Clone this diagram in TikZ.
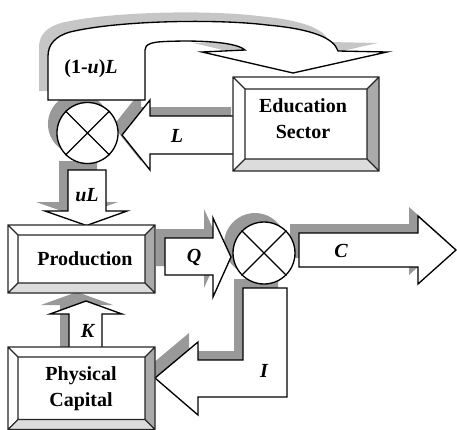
\documentclass[tikz,border=0pt]{standalone}
\usepackage{fontspec}
\setmainfont{Liberation Serif}

\definecolor{shadowgray}{HTML}{999999}
\definecolor{lightshadow}{HTML}{C6C6C6}
\definecolor{bevdark}{HTML}{AAAAAA}
\definecolor{bevlight}{HTML}{DCDCDC}

% Outlines of the block arrows (pixel-like units, y pointing down)
\newcommand\flowRet{(48,100) -- (145,100) -- (145,50) .. controls (145,44) and (152,42) .. (165,41.5) .. controls (200,40) and (236,42) .. (245,50) -- (202,52) -- (293,73) -- (387,52) -- (338,51) .. controls (334,38) and (312,29) .. (267,25) .. controls (220,19) and (120,20) .. (70,32) .. controls (56,36) and (48,44) .. (48,56) -- cycle}
\newcommand\flowL{(122,135) -- (150,100) -- (150,116) -- (240,116) -- (240,154) -- (150,154) -- (150,170) -- cycle}
\newcommand\flowuL{(68,170) -- (106,170) -- (106,211) -- (127,211) -- (86.5,225.5) -- (45,211) -- (68,211) -- cycle}
\newcommand\flowQ{(165,238) -- (213,238) -- (213,218) -- (231,257) -- (213,297) -- (213,275) -- (165,275) -- cycle}
\newcommand\flowC{(299,233) -- (418,233) -- (418,216) -- (456,250) -- (418,284) -- (418,267) -- (299,267) -- cycle}
\newcommand\flowK{(69,356) -- (69,314) -- (50,314) -- (86,301) -- (122,314) -- (102,314) -- (102,356) -- cycle}
\newcommand\flowI{(243,288) -- (287,288) -- (287,397) -- (198,397) -- (198,415) -- (155,378) -- (198,342) -- (198,360) -- (243,360) -- cycle}

% Bevelled box: x1 y1 x2 y2 bevel
\newcommand\bevelbox[5]{%
  \fill[white] (#1,#2) rectangle (#3,#4);
  \fill[bevdark] (#3,#2) -- (#3,#4) -- ({#3-#5},{#4-#5}) -- ({#3-#5},{#2+#5}) -- cycle;
  \fill[bevlight] (#1,#4) -- (#3,#4) -- ({#3-#5},{#4-#5}) -- ({#1+#5},{#4-#5}) -- cycle;
  \draw[boxline] (#1,#2) rectangle (#3,#4) ({#1+#5},{#2+#5}) rectangle ({#3-#5},{#4-#5})
     (#1,#2) -- ({#1+#5},{#2+#5}) (#3,#2) -- ({#3-#5},{#2+#5})
     (#3,#4) -- ({#3-#5},{#4-#5}) (#1,#4) -- ({#1+#5},{#4-#5});
}

\begin{document}
\begin{tikzpicture}[x=0.75pt,y=-0.75pt,
  outl/.style={draw=black,line width=1pt,line join=miter,fill=white},
  boxline/.style={draw=black!85,line width=0.9pt},
  mult/.style={circle,draw=black,line width=1pt,fill=white,inner sep=0pt},
  lbl/.style={font=\fontsize{15}{18}\selectfont\bfseries\itshape,anchor=base,inner sep=0pt},
  boxtxt/.style={font=\fontsize{15}{19.5}\selectfont\bfseries,align=center,inner sep=0pt}]
\useasboundingbox (0,0) rectangle (457,429);

% shadows
\begin{scope}[shift={(-9,-9)}]
  \fill[lightshadow] \flowRet;
  \fill[shadowgray] \flowL;
  \fill[shadowgray] \flowuL;
  \fill[shadowgray] \flowQ;
  \fill[shadowgray] \flowC;
  \fill[shadowgray] \flowK;
  \fill[shadowgray] \flowI;
  \fill[shadowgray] (87.5,133) circle[radius=22.9pt];
  \fill[shadowgray] (264,253) circle[radius=23.2pt];
\end{scope}

% block arrows
\path[outl] \flowRet;
\path[outl] \flowL;
\path[outl] \flowuL;
\path[outl] \flowQ;
\path[outl] \flowC;
\path[outl] \flowK;
\path[outl] \flowI;

% multipliers
\node[mult,minimum size=45.8pt] (m1) at (87.5,133) {};
\draw[line width=1pt] (m1.north west) -- (m1.south east) (m1.north east) -- (m1.south west);
\node[mult,minimum size=46.5pt] (m2) at (264,253) {};
\draw[line width=1pt] (m2.north west) -- (m2.south east) (m2.north east) -- (m2.south west);

% boxes
\bevelbox{233}{77}{379}{171}{12}
\bevelbox{8}{225}{155}{293}{10}
\bevelbox{8}{347}{155}{429.5}{10}
\node[boxtxt] (edu) at (303,119) {Education\\Sector};
\node[boxtxt] (prod) at (85,258.5) {Production};
\node[boxtxt] (cap) at (81,389) {Physical\\Capital};

% flow labels
\node[lbl] (lab1) at (91,73.5) {\upshape(1-\itshape u\upshape)\itshape L};
\node[lbl] (labL) at (177,142) {L};
\node[lbl] (labuL) at (87,201) {uL};
\node[lbl] (labQ) at (194,262) {Q};
\node[lbl] (labC) at (341,257) {C};
\node[lbl] (labK) at (87.5,337) {K};
\node[lbl] (labI) at (264,377) {I};
\end{tikzpicture}
\end{document}
